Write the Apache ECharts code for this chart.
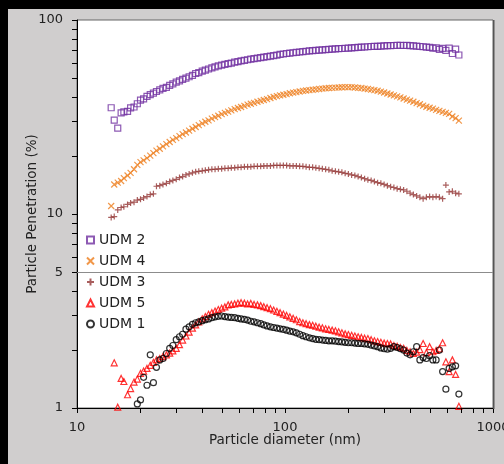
<!DOCTYPE html>
<html><head><meta charset="utf-8">
<script src="https://cdn.jsdelivr.net/npm/echarts@6/dist/echarts.min.js"></script>
<style>html,body{margin:0;padding:0;background:#d0cece;}#c{width:504px;height:464px;}</style>
</head><body><div id="c"></div>
<script>
// Particle diameters (nm)
var diameters = [14.6,15.1,15.7,16.3,16.8,17.5,18.1,18.8,19.5,20.2,20.9,21.7,22.5,23.3,24.1,25.0,25.9,26.9,27.9,28.9,
30.0,31.1,32.2,33.4,34.6,35.9,37.2,38.5,40.0,41.4,42.9,44.5,46.1,47.8,49.6,51.4,53.3,55.2,57.3,59.4,
61.5,63.8,66.1,68.5,71.0,73.7,76.4,79.1,82.0,85.1,88.2,91.4,94.7,98.2,101.8,105.5,109.4,113.4,117.6,121.9,
126.3,131.0,135.8,140.7,145.9,151.2,156.8,162.5,168.5,174.7,181.1,187.7,194.6,201.7,209.1,216.7,224.7,232.9,241.4,250.3,
259.5,269.0,278.8,289.0,299.6,310.6,322.0,333.8,346.0,358.7,371.8,385.4,399.5,414.2,429.4,445.1,461.4,478.3,495.8,514.0,
532.8,552.3,572.5,593.5,615.3,637.8,661.2,685.4];

var udm2 = [35.3,30.5,27.7,33.2,33.6,33.8,35.2,35.6,37.0,38.6,39.2,40.4,41.2,42.0,42.8,43.6,44.4,45.0,46.0,46.8,
47.8,48.5,49.4,50.2,51.0,51.8,53.0,53.6,54.5,55.2,55.9,56.6,57.3,58.0,58.5,59.0,59.6,60.0,60.6,61.0,
61.5,61.9,62.4,62.8,63.2,63.6,64.0,64.3,64.7,65.1,65.5,65.9,66.5,66.8,67.2,67.5,67.8,68.1,68.4,68.7,
69.0,69.3,69.5,69.8,70.0,70.2,70.4,70.6,70.8,71.0,71.2,71.3,71.5,71.7,71.9,72.1,72.3,72.5,72.6,72.8,
73.0,73.1,73.2,73.4,73.5,73.7,73.8,73.9,74.1,74.0,73.9,74.0,73.7,73.5,73.4,73.0,72.8,72.5,72.2,71.6,
71.8,70.6,71.4,69.8,71.6,67.2,70.8,66.0];

var udm4 = [11.0,14.2,14.5,14.8,15.3,15.8,16.3,17.0,17.9,18.5,18.9,19.4,20.0,20.6,21.2,21.7,22.3,22.9,23.5,24.1,
24.6,25.2,25.8,26.3,26.9,27.5,28.1,28.7,29.3,29.9,30.4,31.0,31.6,32.1,32.7,33.2,33.7,34.2,34.7,35.2,
35.6,36.1,36.6,37.0,37.4,37.9,38.3,38.7,39.1,39.6,40.1,40.5,40.9,41.2,41.5,41.9,42.2,42.5,42.8,43.1,
43.3,43.5,43.7,43.9,44.1,44.3,44.5,44.6,44.7,44.8,44.9,45.0,45.1,45.0,45.1,44.9,44.7,44.6,44.3,44.1,
43.8,43.5,43.2,42.7,42.3,41.8,41.3,40.9,40.4,39.9,39.4,38.9,38.4,37.9,37.3,36.8,36.2,35.7,35.3,34.9,
34.4,34.0,33.6,33.2,32.8,31.8,31.2,30.3];

var udm3 = [9.6,9.7,10.5,10.8,10.9,11.2,11.4,11.5,11.8,11.9,12.1,12.3,12.6,12.7,13.9,14.0,14.2,14.4,14.7,14.9,
15.1,15.4,15.6,15.9,16.1,16.3,16.5,16.6,16.7,16.8,16.9,17.0,17.0,17.1,17.1,17.2,17.2,17.3,17.3,17.4,
17.4,17.5,17.5,17.5,17.6,17.6,17.6,17.7,17.7,17.7,17.8,17.8,17.8,17.8,17.8,17.7,17.7,17.7,17.6,17.6,
17.5,17.4,17.4,17.3,17.2,17.1,17.0,16.9,16.7,16.6,16.5,16.4,16.2,16.1,15.9,15.8,15.6,15.4,15.2,15.0,
14.9,14.7,14.5,14.4,14.2,14.0,13.8,13.7,13.5,13.4,13.3,13.1,12.8,12.6,12.4,12.2,12.0,12.2,12.3,12.2,
12.3,12.2,12.0,14.1,13.0,13.1,12.8,12.7];

var udm5 = [null,1.71,1.01,1.42,1.37,1.17,1.26,1.36,1.41,1.51,1.55,1.60,1.66,1.72,1.77,1.80,1.84,1.88,1.92,1.97,
2.03,2.12,2.24,2.35,2.46,2.58,2.68,2.78,2.88,2.96,3.04,3.10,3.16,3.22,3.27,3.32,3.40,3.42,3.44,3.47,
3.49,3.47,3.44,3.46,3.42,3.40,3.37,3.33,3.29,3.25,3.20,3.15,3.10,3.05,3.00,2.95,2.90,2.85,2.79,2.75,
2.72,2.69,2.67,2.64,2.61,2.59,2.56,2.54,2.52,2.50,2.47,2.44,2.41,2.39,2.37,2.35,2.33,2.31,2.29,2.28,
2.25,2.22,2.20,2.18,2.16,2.15,2.14,2.10,2.08,2.05,2.03,1.98,1.95,1.91,1.94,2.00,2.15,1.93,2.07,1.95,
1.98,2.02,2.17,1.73,1.54,1.77,1.49,1.02];

var udm1 = [null,null,null,null,null,null,null,null,1.05,1.10,1.44,1.31,1.88,1.35,1.62,1.77,1.80,1.91,2.03,2.10,
2.25,2.33,2.40,2.55,2.62,2.70,2.75,2.78,2.82,2.85,2.88,2.92,2.95,2.97,2.98,2.96,2.94,2.93,2.92,2.90,
2.88,2.86,2.84,2.80,2.78,2.75,2.72,2.68,2.65,2.62,2.60,2.58,2.56,2.54,2.52,2.49,2.47,2.44,2.40,2.36,
2.33,2.30,2.28,2.26,2.25,2.24,2.23,2.22,2.22,2.21,2.20,2.19,2.18,2.17,2.17,2.16,2.15,2.15,2.14,2.13,
2.11,2.09,2.07,2.04,2.02,2.01,2.03,2.07,2.05,2.02,1.99,1.92,1.88,1.95,2.07,1.77,1.82,1.80,1.86,1.77,
1.77,1.99,1.54,1.25,1.60,1.63,1.65,1.18];

var xTickLabels = [10, 100, 1000];
var yTickLabels = [1, 5, 10, 100];
var xTicks = [10,20,30,40,50,60,70,80,90,100,200,300,400,500,600,700,800,900,1000];
var yTicks = [1,2,3,4,5,6,7,8,9,10,20,30,40,50,60,70,80,90,100];
var refLine = 5;
var X_MIN = 10, X_MAX = 1000, Y_MIN = 1, Y_MAX = 100;

function pairs(vals){
  var out = [];
  for (var i = 0; i < diameters.length; i++) if (vals[i] != null) out.push([diameters[i], vals[i]]);
  return out;
}

var FONT = 'DejaVu Sans';
var chart = echarts.init(document.getElementById('c'));
var hollow = 'rgba(255,255,255,0)';
var TICK = 5;

var series = [
  {name:'UDM 2', type:'scatter', data:pairs(udm2), symbol:'rect', symbolSize:6,
   itemStyle:{color:hollow, borderColor:'#7030a0', borderWidth:1.2},
   markLine:{silent:true, symbol:'none', label:{show:false}, lineStyle:{color:'#8c8c8c', width:1, type:'solid'}, data:[{yAxis:refLine}]}},
  {name:'UDM 4', type:'scatter', data:pairs(udm4), symbol:'path://M0,0L10,10M0,10L10,0', symbolSize:6,
   itemStyle:{color:hollow, borderColor:'#ee7d1c', borderWidth:1.2}},
  {name:'UDM 3', type:'scatter', data:pairs(udm3), symbol:'path://M5,0L5,10M0,5L10,5', symbolSize:6,
   itemStyle:{color:hollow, borderColor:'#943634', borderWidth:1.2}},
  {name:'UDM 5', type:'scatter', data:pairs(udm5), symbol:'triangle', symbolSize:6,
   itemStyle:{color:hollow, borderColor:'#ff0000', borderWidth:1.2}},
  {name:'UDM 1', type:'scatter', data:pairs(udm1), symbol:'circle', symbolSize:6,
   itemStyle:{color:hollow, borderColor:'#000000', borderWidth:1.2}}
];

var frame = [
  {type:'rect', shape:{x:0,y:0,width:504,height:9}, style:{fill:'#000'}, z:100},
  {type:'rect', shape:{x:0,y:0,width:8,height:464}, style:{fill:'#000'}, z:100},
  {type:'rect', shape:{x:493,y:20,width:1.5,height:389}, style:{fill:'#555'}, z:100}
];

chart.setOption({
  animation:false,
  backgroundColor:'#d0cece',
  textStyle:{fontFamily:FONT},
  grid:{left:77, top:20, right:11, bottom:56, outerBoundsMode:'none', containLabel:false,
    show:true, backgroundColor:'#fff', borderColor:'#666', borderWidth:1},
  legend:{
    orient:'vertical', left:80, top:229, backgroundColor:'#fff', padding:[3,2,3,6],
    itemWidth:7, itemHeight:7, itemGap:5,
    textStyle:{fontFamily:FONT, fontSize:14, color:'#222', lineHeight:16},
    data:['UDM 2','UDM 4','UDM 3','UDM 5','UDM 1']
  },
  xAxis:{
    type:'log', logBase:10, min:X_MIN, max:X_MAX,
    name:'Particle diameter (nm)', nameLocation:'middle', nameGap:25, nameMoveOverlap:false,
    nameTextStyle:{fontFamily:FONT, fontSize:13.5, color:'#222'},
    axisLine:{show:true, onZero:false, lineStyle:{color:'#000', width:1}},
    axisTick:{show:false},
    axisLabel:{customValues:xTickLabels, margin:13, fontFamily:FONT, fontSize:13, color:'#222',
      formatter:function(v){return String(Math.round(v));}},
    splitLine:{show:false}, minorTick:{show:false}
  },
  yAxis:{
    type:'log', logBase:10, min:Y_MIN, max:Y_MAX,
    name:'Particle Penetration (%)', nameLocation:'middle', nameGap:38, nameMoveOverlap:false,
    nameTextStyle:{fontFamily:FONT, fontSize:13.5, color:'#222'},
    axisLine:{show:true, onZero:false, lineStyle:{color:'#000', width:1}},
    axisTick:{show:false},
    axisLabel:{customValues:yTickLabels, margin:14, fontFamily:FONT, fontSize:13, color:'#222',
      formatter:function(v){return String(Math.round(v));}},
    splitLine:{show:false}, minorTick:{show:false}
  },
  series:series
});

// Log-spaced tick marks, positioned through the chart's own axis scales.
var ticks = [];
var xAxisY = chart.convertToPixel({yAxisIndex:0}, Y_MIN);
var yAxisX = chart.convertToPixel({xAxisIndex:0}, X_MIN);
xTicks.forEach(function(v){
  var px = Math.round(chart.convertToPixel({xAxisIndex:0}, v)) + 0.5;
  ticks.push({type:'line', shape:{x1:px, y1:xAxisY, x2:px, y2:xAxisY + TICK}, style:{stroke:'#000', lineWidth:1}, z:90});
});
yTicks.forEach(function(v){
  var py = Math.round(chart.convertToPixel({yAxisIndex:0}, v)) + 0.5;
  ticks.push({type:'line', shape:{x1:yAxisX - TICK, y1:py, x2:yAxisX, y2:py}, style:{stroke:'#000', lineWidth:1}, z:90});
});
chart.setOption({graphic: frame.concat(ticks)});
</script></body></html>
